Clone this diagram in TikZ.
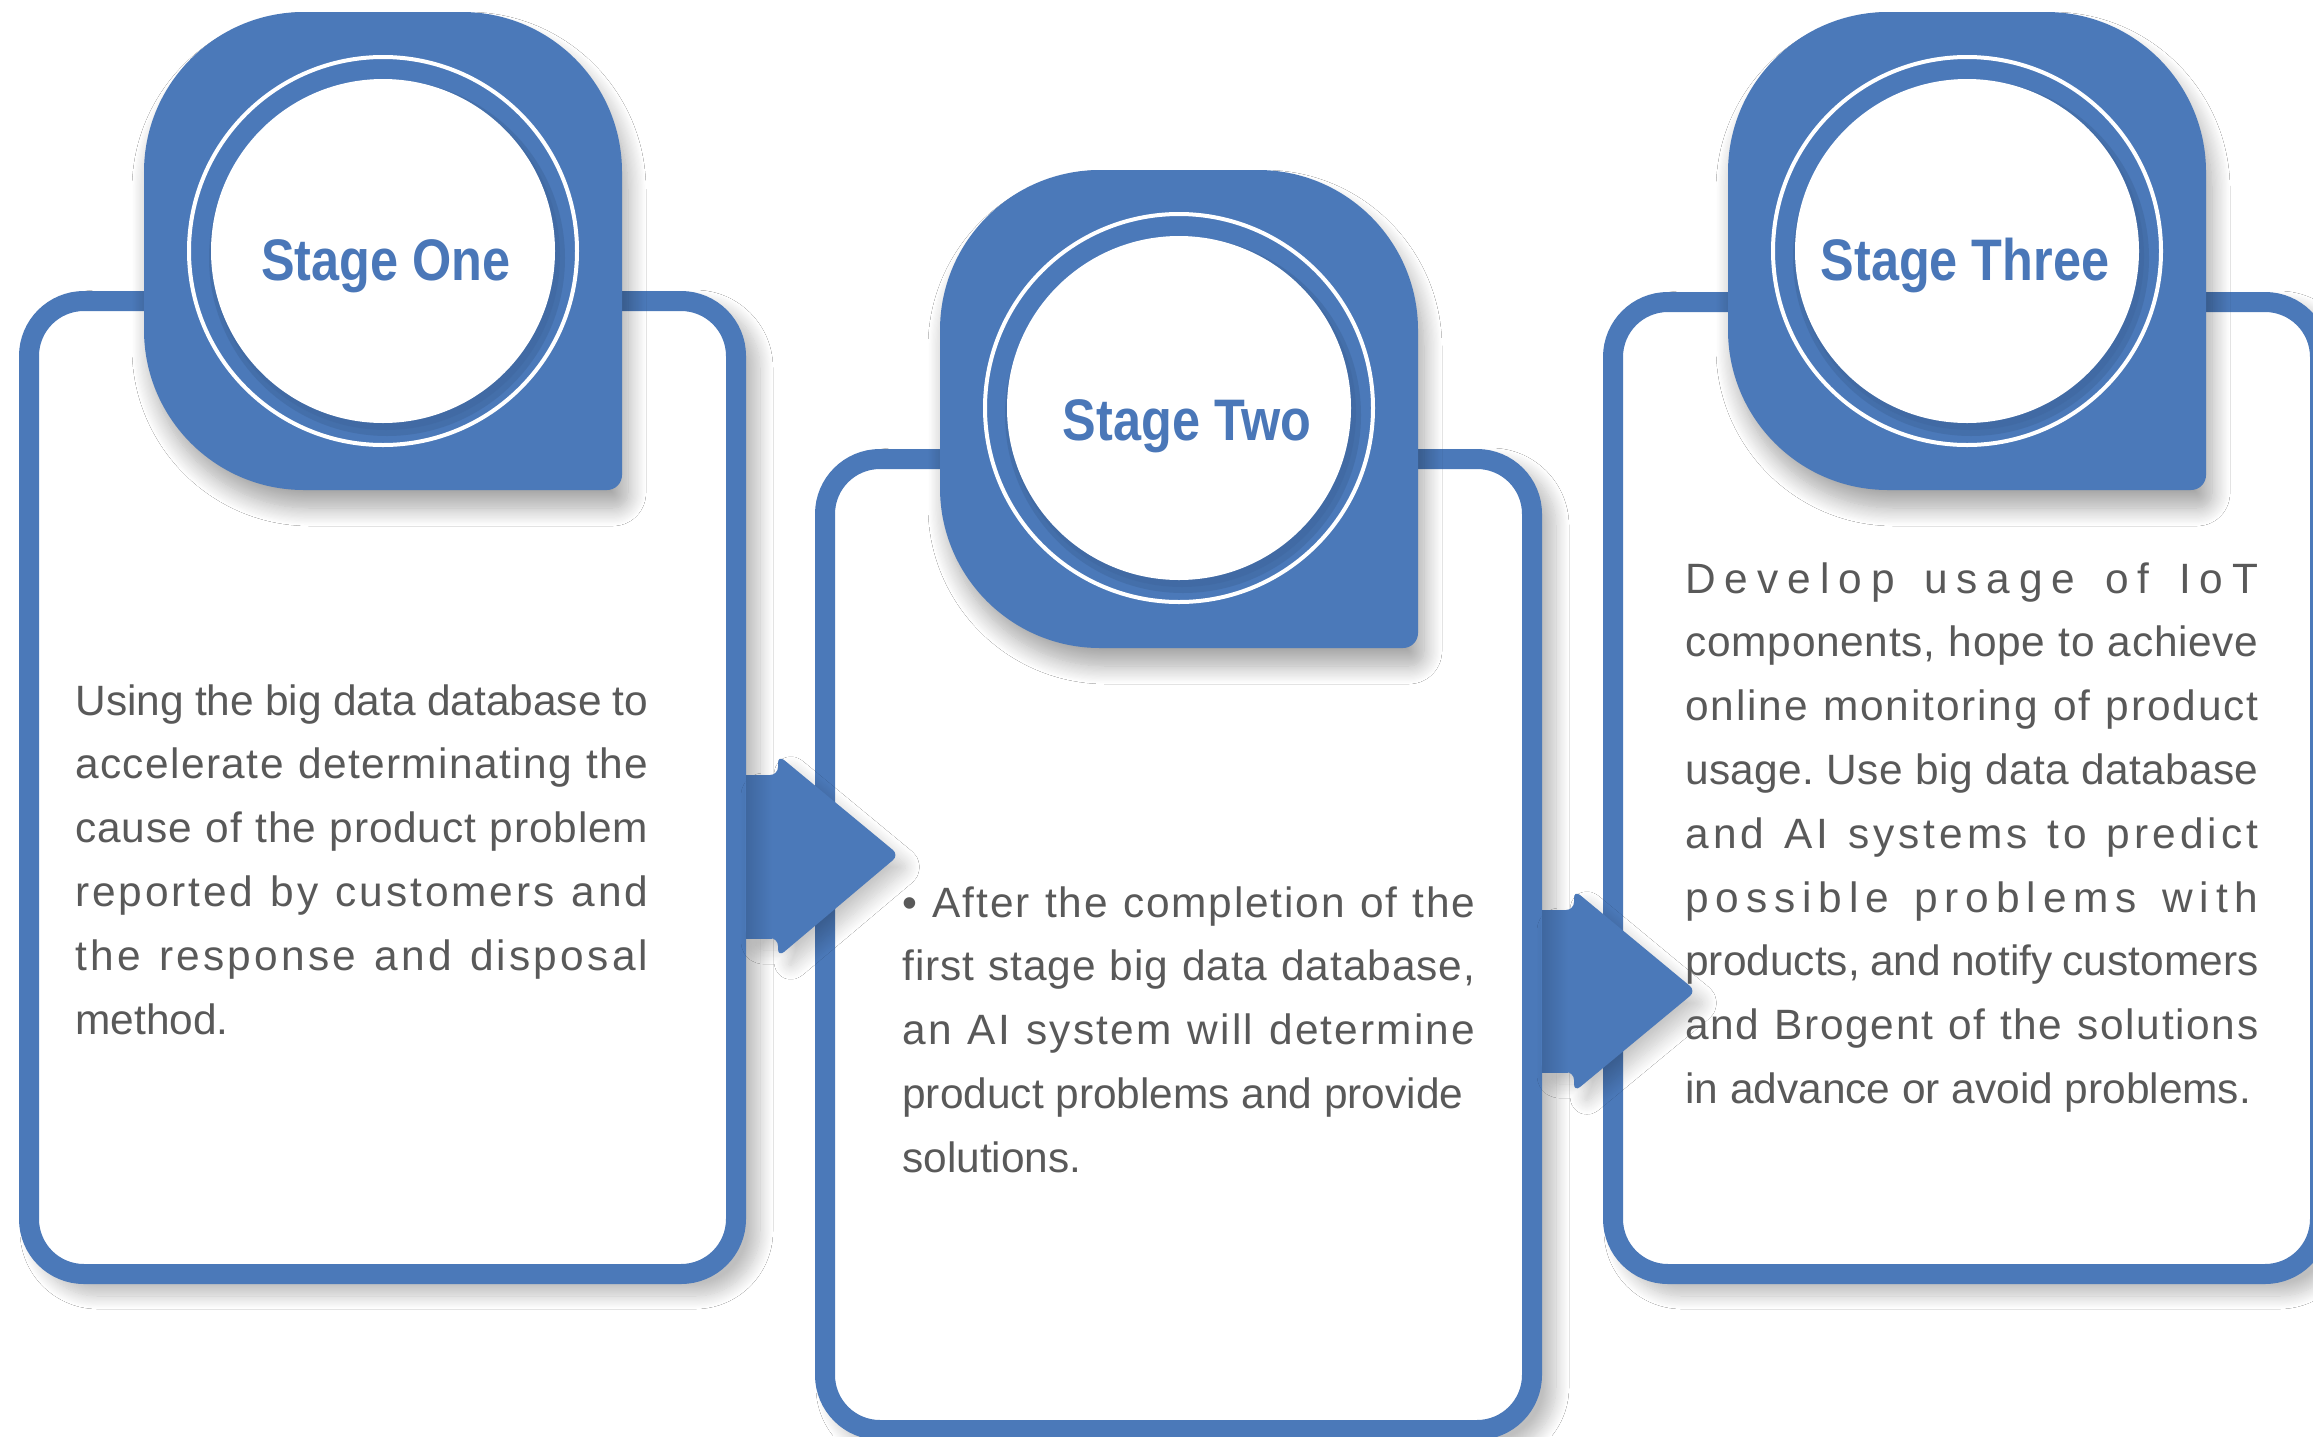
\documentclass[tikz,border=0pt]{standalone}
\usepackage{fontspec}
\setmainfont{Liberation Sans}
\newfontfamily\titlefont[FakeStretch=0.86]{Liberation Sans}
\usetikzlibrary{shadows.blur}
\definecolor{bmain}{HTML}{4B79B9}
\definecolor{bdark}{HTML}{3F679F}
\definecolor{ttitle}{HTML}{4A77B8}
\definecolor{tgray}{HTML}{595959}
\makeatletter
\newdimen\distW \distW=286.5pt
\def\distline#1{\hbox to \distW{\dist@words#1 \relax}}
\def\dist@words#1 #2\relax{\dist@word#1\relax\ifx\relax#2\relax\else\hfil\ \hfil\dist@words#2\relax\fi}
\def\dist@word#1#2{#1\ifx\relax#2\else\hfil\expandafter\dist@word\expandafter#2\fi}
\makeatother
\newcommand\bodyfont{\fontsize{21.2pt}{31.9pt}\selectfont}
\begin{document}
\begin{tikzpicture}[x=0.5pt,y=-0.5pt,
  frameshadow/.style={rounded corners=32.5pt,
    blur shadow={shadow xshift=7pt, shadow yshift=-6pt, shadow opacity=25, shadow blur radius=6.5pt, shadow blur steps=16}},
  cardframe/.style={draw=bmain, line width=10pt, fill=white, rounded corners=27.5pt},
  tabshape/.style={fill=bmain,
    blur shadow={shadow xshift=3pt, shadow yshift=-9pt, shadow opacity=35, shadow blur radius=9pt, shadow blur steps=16}},
  arrowshape/.style={fill=bmain, rounded corners=4pt,
    blur shadow={shadow xshift=5pt, shadow yshift=-6pt, shadow opacity=22, shadow blur radius=7pt, shadow blur steps=16}},
  shaftshade/.style={left color=bdark, right color=bmain},
  title/.style={anchor=base, inner sep=0pt, text=ttitle, font=\titlefont\bfseries\fontsize{29.3pt}{30pt}\selectfont},
  body/.style={anchor=base west, inner sep=0pt, text=tgray, font=\bodyfont}
]
\fill[white] (0,0) rectangle (2313,1436);
\useasboundingbox (0,0) rectangle (2313,1436);

% frame shadows
\path[frameshadow] (19,291) rectangle (746,1284);
\path[frameshadow] (815,449) rectangle (1542,1440);
\path[frameshadow] (1603,292) rectangle (2330,1284);

% frames
\path[cardframe] (29,301) rectangle (736,1274);
\path[cardframe] (825,459) rectangle (1532,1430);
\path[cardframe] (1613,302) rectangle (2320,1274);

% arrows
\path[arrowshape] (745,775) -- (778,775) -- (778,755) -- (899,855) -- (778,957) -- (778,938) -- (745,938) -- cycle;
\shade[shaftshade] (746,775) rectangle (772,938);
\path[arrowshape] (1541,910) -- (1574,910) -- (1574,890) -- (1696,991) -- (1574,1092) -- (1574,1072) -- (1541,1072) -- cycle;
\shade[shaftshade] (1542,910) rectangle (1568,1072);

% tabs
\foreach \xa/\ya in {144/12, 940/170, 1728/12}{
  \path[tabshape] (\xa,\ya+160) arc[start angle=180, end angle=270, radius=160]
    -- (\xa+318,\ya) arc[start angle=270, end angle=360, radius=160]
    -- (\xa+478,\ya+463) arc[start angle=0, end angle=90, radius=15]
    -- (\xa+160,\ya+478) arc[start angle=90, end angle=180, radius=160] -- cycle;
}

% circles
\foreach \cx/\cy in {383/251, 1179/408, 1967/251}{
  \fill[bdark, opacity=0.55] (\cx+4,\cy+7) circle[radius=178];
  \fill[bdark, opacity=0.5] (\cx+3,\cy+5) circle[radius=174];
  \fill[white] (\cx,\cy) circle[radius=172];
  \draw[white, line width=2pt] (\cx,\cy) circle[radius=194];
}

% titles
\node[title] (t1) at (386,280) {Stage One};
\node[title] (t2) at (1187,440) {Stage Two};
\node[title] (t3) at (1965,280) {Stage Three};

% body texts
\node[body] (b1) at (75,715) {\vtop{\baselineskip=31.9pt
  \distline{Using the big data database to}
  \distline{accelerate determinating the}
  \distline{cause of the product problem}
  \distline{reported by customers and}
  \distline{the response and disposal}
  \hbox{method.}}};
\node[body] (b2) at (902,917) {\vtop{\baselineskip=31.9pt
  \distline{• After the completion of the}
  \distline{first stage big data database,}
  \distline{an AI system will determine}
  \hbox{product problems and provide}
  \hbox{solutions.}}};
\node[body] (b3) at (1685,593) {\vtop{\baselineskip=31.9pt
  \distline{Develop usage of IoT}
  \distline{components, hope to achieve}
  \distline{online monitoring of product}
  \distline{usage. Use big data database}
  \distline{and AI systems to predict}
  \distline{possible problems with}
  \distline{products, and notify customers}
  \distline{and Brogent of the solutions}
  \hbox{in advance or avoid problems.}}};
\end{tikzpicture}
\end{document}
